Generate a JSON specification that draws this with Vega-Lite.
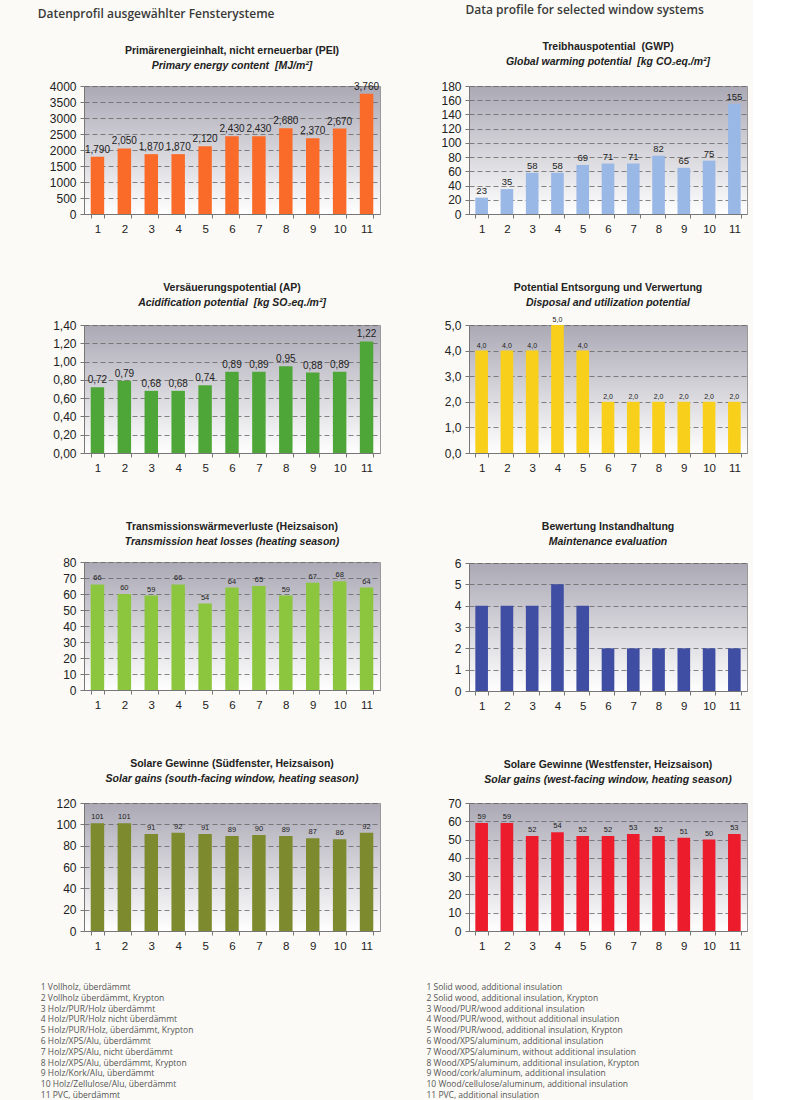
{
  "$schema": "https://vega.github.io/schema/vega-lite/v6.json",
  "background": "#fbfaf6",
  "padding": {"left": 37, "top": 3, "right": 5, "bottom": 0},
  "data": {"values": [
    {"n": 1, "pei": 1790, "gwp": 23, "ap": 0.72, "disp": 4, "trans": 66, "maint": 4, "south": 101, "west": 59},
    {"n": 2, "pei": 2050, "gwp": 35, "ap": 0.79, "disp": 4, "trans": 60, "maint": 4, "south": 101, "west": 59},
    {"n": 3, "pei": 1870, "gwp": 58, "ap": 0.68, "disp": 4, "trans": 59, "maint": 4, "south": 91, "west": 52},
    {"n": 4, "pei": 1870, "gwp": 58, "ap": 0.68, "disp": 5, "trans": 66, "maint": 5, "south": 92, "west": 54},
    {"n": 5, "pei": 2120, "gwp": 69, "ap": 0.74, "disp": 4, "trans": 54, "maint": 4, "south": 91, "west": 52},
    {"n": 6, "pei": 2430, "gwp": 71, "ap": 0.89, "disp": 2, "trans": 64, "maint": 2, "south": 89, "west": 52},
    {"n": 7, "pei": 2430, "gwp": 71, "ap": 0.89, "disp": 2, "trans": 65, "maint": 2, "south": 90, "west": 53},
    {"n": 8, "pei": 2680, "gwp": 82, "ap": 0.95, "disp": 2, "trans": 59, "maint": 2, "south": 89, "west": 52},
    {"n": 9, "pei": 2370, "gwp": 65, "ap": 0.88, "disp": 2, "trans": 67, "maint": 2, "south": 87, "west": 51},
    {"n": 10, "pei": 2670, "gwp": 75, "ap": 0.89, "disp": 2, "trans": 68, "maint": 2, "south": 86, "west": 50},
    {"n": 11, "pei": 3760, "gwp": 155, "ap": 1.22, "disp": 2, "trans": 64, "maint": 2, "south": 92, "west": 53}
  ]},
  "spacing": 45,
  "hconcat": [
    {
      "title": {"text": "Datenprofil ausgewählter Fensterysteme", "anchor": "start", "frame": "bounds", "orient": "top", "font": "Open Sans", "fontSize": 12, "fontWeight": 600, "color": "#3a3a3a", "offset": 25, "dx": -3},
      "vconcat": [
        {
          "title": {"text": ["1 Vollholz, überdämmt", "2 Vollholz überdämmt, Krypton", "3 Holz/PUR/Holz überdämmt", "4 Holz/PUR/Holz nicht überdämmt", "5 Holz/PUR/Holz, überdämmt, Krypton", "6 Holz/XPS/Alu, überdämmt", "7 Holz/XPS/Alu, nicht überdämmt", "8 Holz/XPS/Alu, überdämmt, Krypton", "9 Holz/Kork/Alu, überdämmt", "10 Holz/Zellulose/Alu, überdämmt", "11 PVC, überdämmt"], "orient": "bottom", "anchor": "start", "frame": "bounds", "font": "Open Sans", "fontSize": 8.5, "fontWeight": "normal", "color": "#555555", "lineHeight": 10.8, "offset": 31, "dx": -8},
          "spacing": 47,
          "vconcat": [
            {
              "width": 296, "height": 128,
              "view": {"fill": {"gradient": "linear", "x1": 0, "y1": 0, "x2": 0, "y2": 1, "stops": [{"offset": 0, "color": "#aba9b5"}, {"offset": 1, "color": "#ffffff"}]}, "stroke": "#999999"},
              "title": {"text": "Primärenergieinhalt, nicht erneuerbar (PEI)", "subtitle": "Primary energy content\u00a0 [MJ/m²]", "offset": 9},
              "encoding": {
                "x": {"field": "n", "type": "ordinal", "title": null, "scale": {"paddingInner": 0.5, "paddingOuter": 0.25}},
                "y": {"field": "pei", "type": "quantitative", "title": null, "scale": {"domain": [0, 4000]}, "axis": {"values": [0, 500, 1000, 1500, 2000, 2500, 3000, 3500, 4000], "format": "d"}}
              },
              "layer": [
                {"mark": {"type": "bar", "color": "#fa6a28"}},
                {"mark": {"type": "text", "baseline": "bottom", "dy": -2, "fontSize": 10}, "encoding": {"text": {"field": "pei", "type": "quantitative", "format": ",d"}}}
              ]
            },
            {
              "width": 296, "height": 128,
              "view": {"fill": {"gradient": "linear", "x1": 0, "y1": 0, "x2": 0, "y2": 1, "stops": [{"offset": 0, "color": "#aba9b5"}, {"offset": 1, "color": "#ffffff"}]}, "stroke": "#999999"},
              "title": {"text": "Versäuerungspotential (AP)", "subtitle": "Acidification potential\u00a0 [kg SO₂eq./m²]", "offset": 11},
              "encoding": {
                "x": {"field": "n", "type": "ordinal", "title": null, "scale": {"paddingInner": 0.5, "paddingOuter": 0.25}},
                "y": {"field": "ap", "type": "quantitative", "title": null, "scale": {"domain": [0, 1.4]}, "axis": {"values": [0, 0.2, 0.4, 0.6, 0.8, 1, 1.2, 1.4], "format": ".2f"}}
              },
              "layer": [
                {"mark": {"type": "bar", "color": "#4ea638"}},
                {"mark": {"type": "text", "baseline": "bottom", "dy": -2, "fontSize": 10}, "encoding": {"text": {"field": "ap", "type": "quantitative", "format": ".2f"}}}
              ]
            },
            {
              "width": 296, "height": 128,
              "view": {"fill": {"gradient": "linear", "x1": 0, "y1": 0, "x2": 0, "y2": 1, "stops": [{"offset": 0, "color": "#aba9b5"}, {"offset": 1, "color": "#ffffff"}]}, "stroke": "#999999"},
              "title": {"text": "Transmissionswärmeverluste (Heizsaison)", "subtitle": "Transmission heat losses (heating season)", "offset": 9},
              "encoding": {
                "x": {"field": "n", "type": "ordinal", "title": null, "scale": {"paddingInner": 0.5, "paddingOuter": 0.25}},
                "y": {"field": "trans", "type": "quantitative", "title": null, "scale": {"domain": [0, 80]}, "axis": {"values": [0, 10, 20, 30, 40, 50, 60, 70, 80]}}
              },
              "layer": [
                {"mark": {"type": "bar", "color": "#8cc63e"}},
                {"mark": {"type": "text", "baseline": "bottom", "dy": -2, "fontSize": 7.5}, "encoding": {"text": {"field": "trans", "type": "quantitative"}}}
              ]
            },
            {
              "width": 296, "height": 128,
              "view": {"fill": {"gradient": "linear", "x1": 0, "y1": 0, "x2": 0, "y2": 1, "stops": [{"offset": 0, "color": "#aba9b5"}, {"offset": 1, "color": "#ffffff"}]}, "stroke": "#999999"},
              "title": {"text": "Solare Gewinne (Südfenster, Heizsaison)", "subtitle": "Solar gains (south-facing window, heating season)", "offset": 13},
              "encoding": {
                "x": {"field": "n", "type": "ordinal", "title": null, "scale": {"paddingInner": 0.5, "paddingOuter": 0.25}},
                "y": {"field": "south", "type": "quantitative", "title": null, "scale": {"domain": [0, 120]}, "axis": {"values": [0, 20, 40, 60, 80, 100, 120]}}
              },
              "layer": [
                {"mark": {"type": "bar", "color": "#7d8a2e"}},
                {"mark": {"type": "text", "baseline": "bottom", "dy": -2, "fontSize": 7.5}, "encoding": {"text": {"field": "south", "type": "quantitative"}}}
              ]
            }
          ]
        }
      ]
    },
    {
      "title": {"text": "Data profile for selected window systems", "anchor": "start", "frame": "bounds", "orient": "top", "font": "Open Sans", "fontSize": 12, "fontWeight": 600, "color": "#3a3a3a", "offset": 25, "dx": 39},
      "vconcat": [
        {
          "title": {"text": ["1 Solid wood, additional insulation", "2 Solid wood, additional insulation, Krypton", "3 Wood/PUR/wood additional insulation", "4 Wood/PUR/wood, without additional insulation", "5 Wood/PUR/wood, additional insulation, Krypton", "6 Wood/XPS/aluminum, additional insulation", "7 Wood/XPS/aluminum, without additional insulation", "8 Wood/XPS/aluminum, additional insulation, Krypton", "9 Wood/cork/aluminum, additional insulation", "10 Wood/cellulose/aluminum, additional insulation", "11 PVC, additional insulation"], "orient": "bottom", "anchor": "start", "frame": "bounds", "font": "Open Sans", "fontSize": 8.5, "fontWeight": "normal", "color": "#555555", "lineHeight": 10.8, "offset": 31, "dx": -14},
          "spacing": 47,
          "vconcat": [
            {
              "width": 278, "height": 128,
              "view": {"fill": {"gradient": "linear", "x1": 0, "y1": 0, "x2": 0, "y2": 1, "stops": [{"offset": 0, "color": "#aba9b5"}, {"offset": 1, "color": "#ffffff"}]}, "stroke": "#999999"},
              "title": {"text": "Treibhauspotential\u00a0 (GWP)", "subtitle": "Global warming potential\u00a0 [kg CO₂eq./m²]", "offset": 13},
              "encoding": {
                "x": {"field": "n", "type": "ordinal", "title": null, "scale": {"paddingInner": 0.5, "paddingOuter": 0.25}},
                "y": {"field": "gwp", "type": "quantitative", "title": null, "scale": {"domain": [0, 180]}, "axis": {"values": [0, 20, 40, 60, 80, 100, 120, 140, 160, 180]}}
              },
              "layer": [
                {"mark": {"type": "bar", "color": "#9ab8e6"}},
                {"mark": {"type": "text", "baseline": "bottom", "dy": -2, "fontSize": 9.5}, "encoding": {"text": {"field": "gwp", "type": "quantitative"}}}
              ]
            },
            {
              "width": 278, "height": 128,
              "view": {"fill": {"gradient": "linear", "x1": 0, "y1": 0, "x2": 0, "y2": 1, "stops": [{"offset": 0, "color": "#aba9b5"}, {"offset": 1, "color": "#ffffff"}]}, "stroke": "#999999"},
              "title": {"text": "Potential Entsorgung und Verwertung", "subtitle": "Disposal and utilization potential", "offset": 8},
              "encoding": {
                "x": {"field": "n", "type": "ordinal", "title": null, "scale": {"paddingInner": 0.5, "paddingOuter": 0.25}},
                "y": {"field": "disp", "type": "quantitative", "title": null, "scale": {"domain": [0, 5]}, "axis": {"values": [0, 1, 2, 3, 4, 5], "format": ".1f"}}
              },
              "layer": [
                {"mark": {"type": "bar", "color": "#f8d01c"}},
                {"mark": {"type": "text", "baseline": "bottom", "dy": -2, "fontSize": 7}, "encoding": {"text": {"field": "disp", "type": "quantitative", "format": ".1f"}}}
              ]
            },
            {
              "width": 278, "height": 128,
              "view": {"fill": {"gradient": "linear", "x1": 0, "y1": 0, "x2": 0, "y2": 1, "stops": [{"offset": 0, "color": "#aba9b5"}, {"offset": 1, "color": "#ffffff"}]}, "stroke": "#999999"},
              "title": {"text": "Bewertung Instandhaltung", "subtitle": "Maintenance evaluation", "offset": 10},
              "encoding": {
                "x": {"field": "n", "type": "ordinal", "title": null, "scale": {"paddingInner": 0.5, "paddingOuter": 0.25}},
                "y": {"field": "maint", "type": "quantitative", "title": null, "scale": {"domain": [0, 6]}, "axis": {"values": [0, 1, 2, 3, 4, 5, 6]}}
              },
              "layer": [
                {"mark": {"type": "bar", "color": "#3f4ea3"}}
              ]
            },
            {
              "width": 278, "height": 128,
              "view": {"fill": {"gradient": "linear", "x1": 0, "y1": 0, "x2": 0, "y2": 1, "stops": [{"offset": 0, "color": "#aba9b5"}, {"offset": 1, "color": "#ffffff"}]}, "stroke": "#999999"},
              "title": {"text": "Solare Gewinne (Westfenster, Heizsaison)", "subtitle": "Solar gains (west-facing window, heating season)", "offset": 12},
              "encoding": {
                "x": {"field": "n", "type": "ordinal", "title": null, "scale": {"paddingInner": 0.5, "paddingOuter": 0.25}},
                "y": {"field": "west", "type": "quantitative", "title": null, "scale": {"domain": [0, 70]}, "axis": {"values": [0, 10, 20, 30, 40, 50, 60, 70]}}
              },
              "layer": [
                {"mark": {"type": "bar", "color": "#ec1c2d"}},
                {"mark": {"type": "text", "baseline": "bottom", "dy": -2, "fontSize": 7.5}, "encoding": {"text": {"field": "west", "type": "quantitative"}}}
              ]
            }
          ]
        }
      ]
    }
  ],
  "config": {
    "locale": {"number": {"decimal": ",", "thousands": ",", "grouping": [3], "currency": ["", ""]}},
    "view": {"stroke": null},
    "axis": {"labelFont": "Liberation Sans", "labelFontSize": 11.5, "labelColor": "#222222", "domainColor": "#777777", "tickColor": "#777777", "tickSize": 4, "labelPadding": 3},
    "axisX": {"tickBand": "extent", "labelAngle": 0, "grid": false, "labelPadding": 5},
    "axisY": {"grid": true, "gridDash": [5, 3], "gridColor": "#666666", "gridWidth": 0.8, "labelFontSize": 12, "labelPadding": 4},
    "text": {"font": "Liberation Sans", "color": "#222222"},
    "title": {"font": "Liberation Sans", "fontSize": 10.5, "fontWeight": "bold", "color": "#222222", "subtitleFont": "Liberation Sans", "subtitleFontSize": 10.5, "subtitleFontStyle": "italic", "subtitleFontWeight": "bold", "subtitleColor": "#222222", "subtitlePadding": 4, "offset": 11, "anchor": "middle", "frame": "group"}
  }
}
